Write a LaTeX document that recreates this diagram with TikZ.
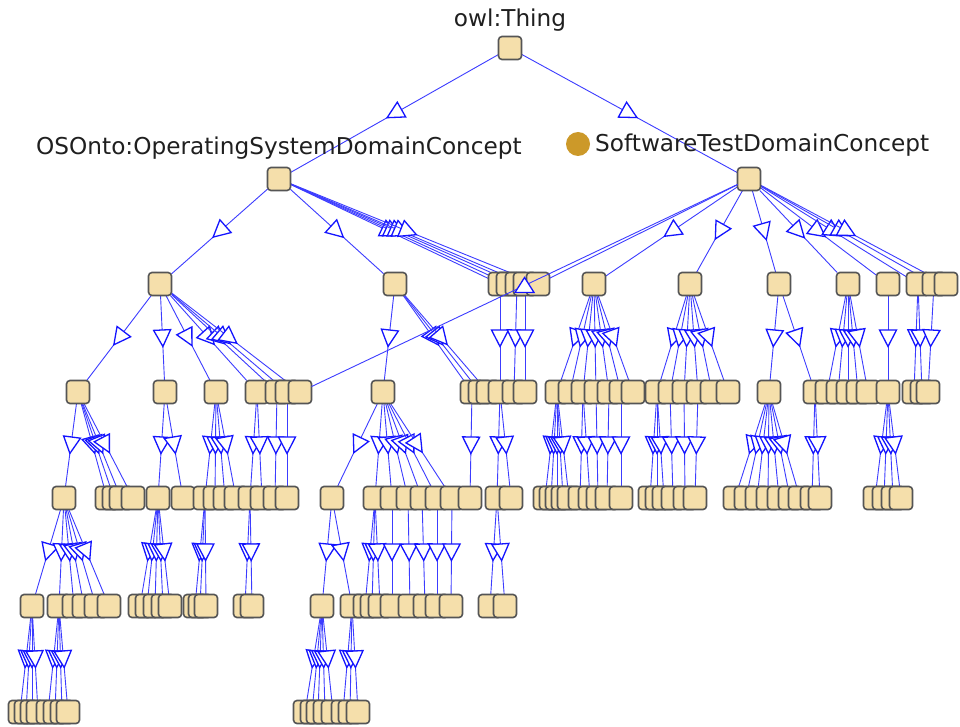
\documentclass[tikz,border=0pt]{standalone}
\usepackage{fontspec}
\setmainfont{DejaVu Sans}
\usetikzlibrary{decorations.markings}
\definecolor{boxfill}{RGB}{245,223,171}
\definecolor{boxline}{RGB}{85,85,85}
\definecolor{edgeblue}{RGB}{60,60,255}
\definecolor{triblue}{RGB}{20,20,255}
\definecolor{dotgold}{RGB}{204,153,41}
\pgfdeclarelayer{bglayer}
\pgfdeclarelayer{edgelayer}
\pgfsetlayers{bglayer,edgelayer,main}
\tikzset{
  cls/.style={rectangle, rounded corners=3.5pt, minimum width=23pt, minimum height=23pt,
    inner sep=0pt, outer sep=0pt, fill=boxfill, draw=boxline, line width=1.6pt},
  plainedge/.style={draw=edgeblue, line width=0.9pt},
  isa/.style={plainedge, postaction={decorate},
    decoration={markings, mark=at position 0.5 with {\filldraw[fill=white, draw=triblue, line width=1.3pt, line join=miter] (8.5pt,0pt) -- (-8pt,8.5pt) -- (-8pt,-8.5pt) -- cycle;}}},
  isaup/.style={plainedge, postaction={decorate},
    decoration={markings, mark=at position 0.5 with {\pgftransformresetnontranslations\filldraw[fill=white, draw=triblue, line width=1.3pt, line join=miter] (0pt,8pt) -- (9.5pt,-7pt) -- (-9.5pt,-7pt) -- cycle;}}},
  lbl/.style={anchor=base, inner sep=0pt, font=\fontsize{23.2}{28}\selectfont, text=black!88}
}
\begin{document}
\begin{tikzpicture}[x=1pt,y=-1pt]
\begin{pgfonlayer}{bglayer}
\fill[white] (0,0) rectangle (960,727);
\end{pgfonlayer}
\useasboundingbox (0,0) rectangle (960,727);
% labels
\node[lbl] (lthing) at (510,27) {owl:Thing};
\node[lbl] (los) at (279,155) {OSOnto:OperatingSystemDomainConcept};
\node[lbl, anchor=base west] (lstd) at (595,152) {SoftwareTestDomainConcept};
\node[circle, fill=dotgold, minimum size=24pt, inner sep=0pt] (dot) at (578,144) {};
% boxes
\node[cls] (T) at (510,48) {};
\node[cls] (OS) at (279,179) {};
\node[cls] (STD) at (749,179) {};
\foreach \x in {160,395,500,508,517,525,538,594,690,779,848,888,918,934,946}
  \node[cls] (b2-\x) at (\x,284) {};
\foreach \x in {78,165,216,257,277,287,300,383,472,480,488,500,514,525,557,570,583,596,609,621,633,657,670,684,698,712,728,769,815,827,838,848,858,868,888,914,922,928}
  \node[cls] (b3-\x) at (\x,392) {};
\foreach \x in {64,107,114,121,133,158,183,205,215,225,236,250,262,275,287,332,375,392,408,422,437,452,470,497,511,545,551,557,563,569,580,590,598,607,621,650,657,664,673,685,695,735,746,757,768,779,790,800,812,820,875,884,893,901}
  \node[cls] (b4-\x) at (\x,498) {};
\foreach \x in {32,59,74,84,96,109,140,147,155,163,170,195,200,206,245,252,322,352,365,372,380,392,410,425,437,451,490,505}
  \node[cls] (b5-\x) at (\x,606) {};
\foreach \x in {20,26,32,38,48,55,62,68,305,312,318,325,333,343,350,358}
  \node[cls] (b6-\x) at (\x,712) {};
% edges
\begin{pgfonlayer}{edgelayer}
\draw[isa] (T) -- (OS);
\draw[isa] (T) -- (STD);
\foreach \c in {160,395,500,508,517,525,538}
  \draw[isa] (OS) -- (b2-\c);
\foreach \c in {594,690,779,848,888,918,934,946}
  \draw[isa] (STD) -- (b2-\c);
\foreach \p/\c in {160/78,160/165,160/216,160/257,160/277,160/287,160/300,
  395/383,395/472,395/480,395/488,500/500,517/514,525/525,
  594/557,594/570,594/583,594/596,594/609,594/621,594/633,
  690/657,690/670,690/684,690/698,690/712,690/728,
  779/769,779/815,848/827,848/838,848/848,848/858,848/868,
  888/888,918/914,918/922,934/928}
  \draw[isa] (b2-\p) -- (b3-\c);
\foreach \p/\c in {78/64,78/107,78/114,78/121,78/133,165/158,165/183,
  216/205,216/215,216/225,216/236,257/250,257/262,277/275,287/287,
  383/332,383/375,383/392,383/408,383/422,383/437,383/452,472/470,500/497,500/511,
  557/545,557/551,557/557,557/563,557/569,583/580,583/590,596/598,609/607,621/621,
  657/650,657/657,657/664,670/673,684/685,698/695,
  769/735,769/746,769/757,769/768,769/779,769/790,769/800,815/812,815/820,
  888/875,888/884,888/893,888/901}
  \draw[isa] (b3-\p) -- (b4-\c);
\foreach \p/\c in {64/32,64/59,64/74,64/84,64/96,64/109,
  158/140,158/147,158/155,158/163,158/170,205/195,205/200,205/206,250/245,250/252,
  332/322,332/352,375/365,375/372,375/380,392/392,408/410,422/425,437/437,452/451,
  497/490,497/505}
  \draw[isa] (b4-\p) -- (b5-\c);
\foreach \p/\c in {32/20,32/26,32/32,32/38,59/48,59/55,59/62,59/68,
  322/305,322/312,322/318,322/325,322/333,352/343,352/350,352/358}
  \draw[isa] (b5-\p) -- (b6-\c);
\end{pgfonlayer}
\draw[plainedge] (STD) -- (b2-538);
\draw[isaup] (STD) -- (b3-300);
\end{tikzpicture}
\end{document}
